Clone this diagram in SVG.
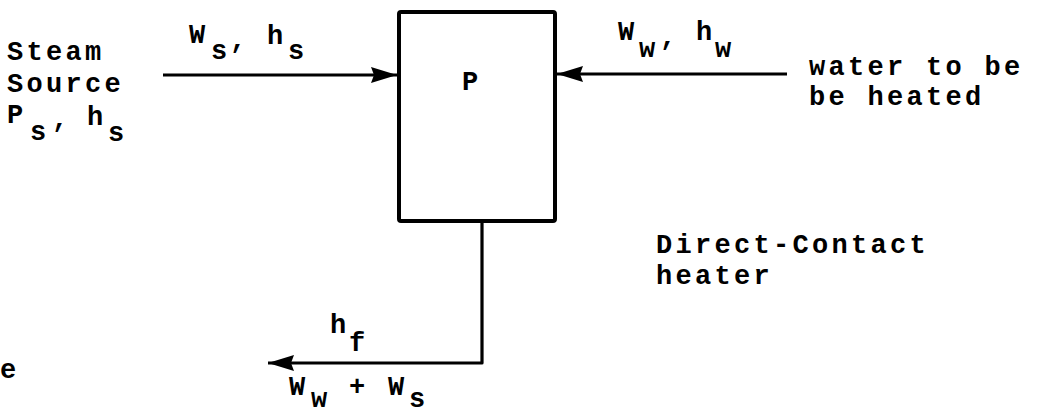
<svg xmlns="http://www.w3.org/2000/svg" width="1041" height="414" viewBox="0 0 1041 414">
<style>
text{font-family:"Liberation Mono","Courier New",monospace;font-size:27px;font-weight:bold;fill:#000;letter-spacing:3.3px}
.ln{fill:none;stroke:#000;stroke-width:3.2px;stroke-linejoin:round}
.box{fill:#fff;stroke:#000;stroke-width:4px}
</style>
<defs>
<marker id="ah" markerUnits="userSpaceOnUse" markerWidth="28" markerHeight="18" refX="26" refY="8" orient="auto">
<path d="M0,0 L26,8 L0,16 L3,8 z" fill="#000"/>
</marker>
</defs>
<rect width="1041" height="414" fill="#fff"/>
<g id="connectors">
<path class="ln" d="M163,75 L397,75" marker-end="url(#ah)"/>
<path class="ln" d="M787,74 L557,74" marker-end="url(#ah)"/>
<path class="ln" d="M482,221 L482,363 L268,363" marker-end="url(#ah)"/>
</g>
<g id="heater">
<rect class="box" x="399" y="12" width="156" height="209" rx="2"/>
<text x="462" y="90">P</text>
</g>
<g id="steam-source">
<text x="7" y="60">Steam</text>
<text x="7" y="92">Source</text>
<text><tspan x="7" y="123">P</tspan><tspan x="30" y="140">s</tspan><tspan x="52" y="127">,</tspan><tspan x="87" y="125">h</tspan><tspan x="108" y="141">s</tspan></text>
</g>
<g id="steam-flow-label">
<text><tspan x="189" y="43">W</tspan><tspan x="211" y="59">s</tspan><tspan x="230" y="48">,</tspan><tspan x="267" y="44">h</tspan><tspan x="288" y="59">s</tspan></text>
</g>
<g id="water-flow-label">
<text><tspan x="618" y="40">W</tspan><tspan x="639" y="57">w</tspan><tspan x="660" y="45">,</tspan><tspan x="696" y="40">h</tspan><tspan x="715" y="57">w</tspan></text>
</g>
<g id="water-source">
<text x="809" y="75">water to be</text>
<text x="809" y="105">be heated</text>
</g>
<g id="caption">
<text x="656" y="253">Direct-Contact</text>
<text x="656" y="284">heater</text>
</g>
<g id="outlet-label">
<text><tspan x="330" y="333">h</tspan><tspan x="349" y="351">f</tspan></text>
<text><tspan x="289" y="395">W</tspan><tspan x="311" y="407">w</tspan><tspan x="349" y="395">+</tspan><tspan x="388" y="395">W</tspan><tspan x="409" y="407">s</tspan></text>
</g>
<g id="fragment">
<text x="0" y="378">e</text>
</g>
</svg>
